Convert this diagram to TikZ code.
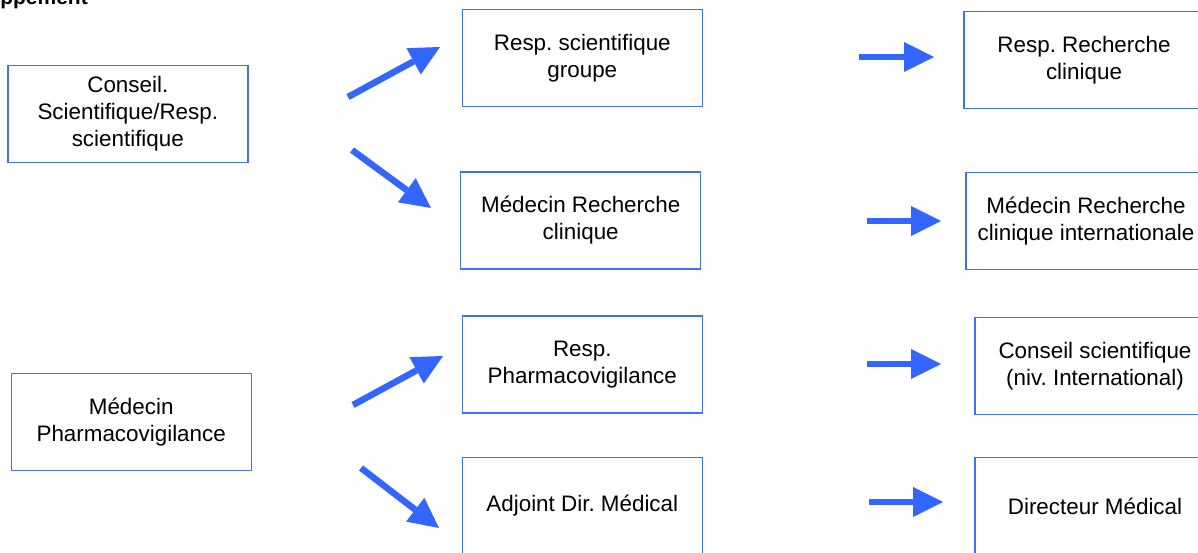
\documentclass[tikz,border=0pt]{standalone}
\usepackage{fontspec}
\setmainfont{Liberation Sans}
\usetikzlibrary{arrows.meta}
\definecolor{arrowblue}{RGB}{51,102,255}
\definecolor{boxblue}{RGB}{64,112,250}
\frenchspacing
\begin{document}
\begin{tikzpicture}[x=1pt,y=-1pt,
  box/.style={draw=boxblue,line width=1.4pt,rectangle,minimum width=240pt,minimum height=97pt,inner sep=0pt,align=center,font=\fontsize{22.4}{27}\selectfont},
  bigarrow/.style={draw=arrowblue,line width=6.5pt,-{Triangle[length=30pt,width=30pt,line width=0pt,fill=arrowblue]}},
]
\clip (0,0) rectangle (1198,553);
\node[anchor=base east,inner sep=0pt,font=\fontsize{21}{27}\selectfont\bfseries] (title) at (88,4.5) {Développement};

\node[box] (A) at (127.8,114) {Conseil.\\Scientifique/Resp.\\scientifique};
\node[box] (B) at (582.3,58.3) {Resp. scientifique\\groupe};
\node[box] (C) at (1084,60) {Resp. Recherche\\clinique};
\node[box] (D) at (580.7,220.5) {Médecin Recherche\\clinique};
\node[box] (E) at (1086,221) {Médecin Recherche\\clinique internationale};
\node[box] (F) at (131.2,422) {Médecin\\Pharmacovigilance};
\node[box] (G) at (582.3,364.3) {Resp.\\Pharmacovigilance};
\node[box] (H) at (582.3,506) {Adjoint Dir. Médical};
\node[box] (I) at (1095,366) {Conseil scientifique\\(niv. International)};
\node[box] (J) at (1095,506) {Directeur Médical};

\coordinate (ab1) at (348,97);  \coordinate (ab2) at (440,47);
\coordinate (ad1) at (352,150); \coordinate (ad2) at (431,208);
\coordinate (bc1) at (859,57);  \coordinate (bc2) at (934,57);
\coordinate (de1) at (867,221); \coordinate (de2) at (941,221);
\coordinate (fg1) at (353,405); \coordinate (fg2) at (443,356);
\coordinate (fh1) at (361,468); \coordinate (fh2) at (439,528);
\coordinate (gi1) at (867,364); \coordinate (gi2) at (941,364);
\coordinate (hj1) at (869,502); \coordinate (hj2) at (943,502);

\draw[bigarrow] (ab1) -- (ab2);
\draw[bigarrow] (ad1) -- (ad2);
\draw[bigarrow] (bc1) -- (bc2);
\draw[bigarrow] (de1) -- (de2);
\draw[bigarrow] (fg1) -- (fg2);
\draw[bigarrow] (fh1) -- (fh2);
\draw[bigarrow] (gi1) -- (gi2);
\draw[bigarrow] (hj1) -- (hj2);
\end{tikzpicture}
\end{document}
